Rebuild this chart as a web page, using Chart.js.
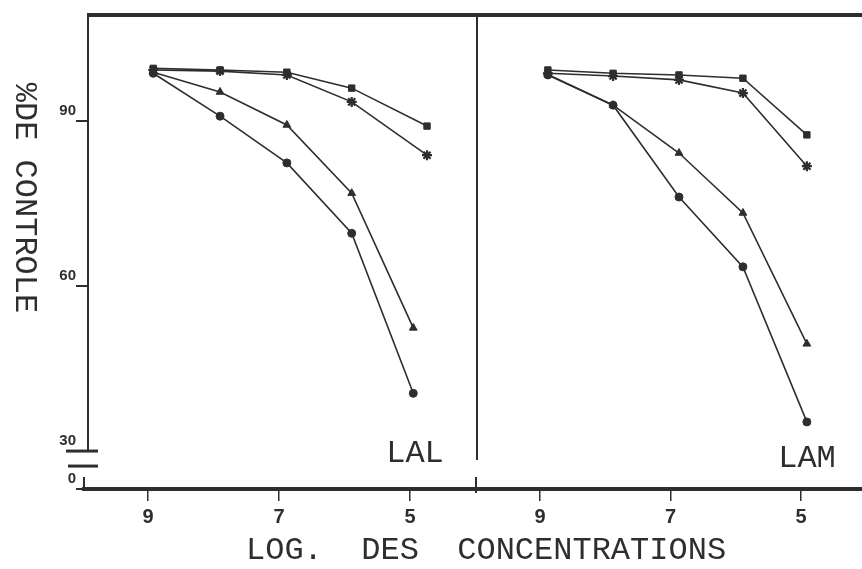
<!DOCTYPE html>
<html>
<head>
<meta charset="utf-8">
<title>% de contrôle — LAL / LAM</title>
<script src="https://cdn.jsdelivr.net/npm/chart.js@4.4.0/dist/chart.umd.min.js"></script>
<style>
  html, body { margin: 0; padding: 0; background: #fff; }
  #wrap { position: relative; width: 862px; height: 569px; overflow: hidden; }
  #lal-chart { position: absolute; left: 0; top: 0; }
  #lam-chart { position: absolute; left: 477px; top: 0; }
  #x-title {
    position: absolute; left: 246px; top: 535px;
    font: 32px/32px "Liberation Mono", "DejaVu Sans Mono", monospace;
    color: #2e2e2e; white-space: pre;
  }
</style>
</head>
<body>
<div id="wrap">
  <canvas id="lal-chart" width="479" height="569"></canvas>
  <canvas id="lam-chart" width="385" height="569"></canvas>
  <div id="x-title">LOG.  DES  CONCENTRATIONS</div>
</div>
<script>
// Axis ticks
const yTicks = [30, 60, 90];
const yBreakLabel = "0";
const xTicks = [9, 7, 5];

// LAL panel (log concentration, % of control)
const lalXUpper = [8.92, 7.9, 6.88, 5.89, 4.74];
const lalXLower = [8.92, 7.9, 6.88, 5.89, 4.95];
const lalSquare = [99.6, 99.3, 98.9, 96.0, 89.1];
const lalStar = [99.3, 99.1, 98.4, 93.5, 83.8];
const lalTriangle = [98.9, 95.3, 89.3, 76.9, 52.4];
const lalCircle = [98.7, 90.9, 82.4, 69.6, 40.5];

// LAM panel
const lamX = [8.88, 7.88, 6.87, 5.89, 4.91];
const lamSquare = [99.3, 98.7, 98.4, 97.8, 87.5];
const lamStar = [98.7, 98.2, 97.5, 95.1, 81.8];
const lamTriangle = [98.5, 92.9, 84.2, 73.3, 49.5];
const lamCircle = [98.4, 92.9, 76.2, 63.5, 35.3];

const INK = "#2e2e2e";
const Y_MIN = 23.1;
const Y_MAX = 109.3;
const MONO = '"Liberation Mono", "DejaVu Sans Mono", monospace';
const TICK_FONT = '"Liberation Sans", Arial, sans-serif';

function series(label, xs, ys, style, radius) {
  return {
    label,
    data: xs.map((x, i) => ({ x, y: ys[i] })),
    borderColor: INK,
    backgroundColor: INK,
    borderWidth: 1.6,
    clip: false,
    pointStyle: style,
    pointRadius: radius,
    pointBorderWidth: style === "star" ? 2.2 : 1,
    pointBorderColor: INK,
    pointBackgroundColor: INK,
  };
}

function line(ctx, x1, y1, x2, y2) {
  ctx.beginPath();
  ctx.moveTo(x1, y1);
  ctx.lineTo(x2, y2);
  ctx.stroke();
}

/** Frame, axis break, panel label and rotated y title */
const framePlugin = {
  id: "frame",
  afterDraw(chart, args, opts) {
    const { ctx, chartArea: a } = chart;
    const y30 = chart.scales.y.getPixelForValue(yTicks[0]);
    ctx.save();
    ctx.strokeStyle = INK;
    ctx.fillStyle = INK;

    ctx.lineWidth = 4;
    line(ctx, a.left - (opts.leftAxis ? 1 : 0), a.top, a.right + 2, a.top);
    line(ctx, a.left - (opts.leftAxis ? 6 : 0), a.bottom, a.right + 2, a.bottom);

    if (opts.leftAxis) {
      ctx.lineWidth = 2;
      line(ctx, a.left, a.top, a.left, y30);
      line(ctx, a.left - 4, y30 + 26, a.left - 4, a.bottom);
      // axis break marks
      ctx.lineWidth = 3;
      line(ctx, a.left - 22, y30, a.left + 10, y30);
      line(ctx, a.left - 20, y30 + 15, a.left + 10, y30 + 15);
    }

    if (opts.divider) {
      ctx.lineWidth = 2;
      line(ctx, a.right, a.top, a.right, a.bottom - 29);
      line(ctx, a.right - 1, a.bottom - 12, a.right - 1, a.bottom + 4);
    }

    ctx.font = "32px " + MONO;
    ctx.textAlign = "center";
    ctx.textBaseline = "alphabetic";
    ctx.fillText(opts.panelLabel, a.right - opts.labelDx, a.bottom - opts.labelDy);

    if (opts.yTitle) {
      ctx.translate(24, 198);
      ctx.rotate(Math.PI / 2);
      ctx.textBaseline = "middle";
      ctx.fillText(opts.yTitle, 0, 0);
    }
    ctx.restore();
  },
};

function xScale(min, max) {
  return {
    type: "linear",
    reverse: true,
    min,
    max,
    afterBuildTicks: (scale) => {
      scale.ticks = xTicks.map((v) => ({ value: v }));
    },
    afterFit: (scale) => {
      scale.height = 80;
      scale.paddingLeft = 0;
      scale.paddingRight = 0;
    },
    border: { display: false },
    grid: {
      drawOnChartArea: false,
      drawTicks: true,
      tickLength: 12,
      color: INK,
      lineWidth: 1.5,
    },
    ticks: {
      autoSkip: false,
      maxRotation: 0,
      padding: 4,
      color: INK,
      font: { family: TICK_FONT, size: 20, weight: "bold" },
    },
  };
}

function yScale(show) {
  return {
    type: "linear",
    display: show,
    min: Y_MIN,
    max: Y_MAX,
    afterBuildTicks: (scale) => {
      scale.ticks = [{ value: Y_MIN }].concat(yTicks.map((v) => ({ value: v })));
    },
    afterFit: (scale) => {
      scale.width = show ? 88 : 0;
      scale.paddingTop = 0;
      scale.paddingBottom = 0;
    },
    border: { display: false },
    grid: {
      drawOnChartArea: false,
      drawTicks: true,
      tickLength: 12,
      color: INK,
      lineWidth: 2,
    },
    ticks: {
      padding: 0,
      labelOffset: -10,
      color: INK,
      font: { family: TICK_FONT, size: 15, weight: "bold" },
      callback: (value) => (value === Y_MIN ? yBreakLabel : String(value)),
    },
  };
}

function baseOptions(xMin, xMax, showY, padRight, frame) {
  return {
    responsive: false,
    animation: false,
    layout: {
      // markers never touch the frame, so skip Chart.js's marker padding
      autoPadding: false,
      padding: { top: 15, right: padRight, bottom: 0, left: 0 },
    },
    scales: { x: xScale(xMin, xMax), y: yScale(showY) },
    elements: { line: { tension: 0 } },
    plugins: {
      legend: { display: false },
      tooltip: { enabled: false },
      frame,
    },
  };
}

new Chart(document.getElementById("lal-chart"), {
  type: "line",
  data: {
    datasets: [
      series("carré", lalXUpper, lalSquare, "rect", 4.5),
      series("étoile", lalXUpper, lalStar, "star", 5),
      series("triangle", lalXLower, lalTriangle, "triangle", 4.5),
      series("cercle", lalXLower, lalCircle, "circle", 4),
    ],
  },
  options: baseOptions(3.977, 9.916, true, 2, {
    leftAxis: true,
    divider: true,
    panelLabel: "LAL",
    labelDx: 62,
    labelDy: 27,
    yTitle: "%DE CONTROLE",
  }),
  plugins: [framePlugin],
});

new Chart(document.getElementById("lam-chart"), {
  type: "line",
  data: {
    datasets: [
      series("carré", lamX, lamSquare, "rect", 4.5),
      series("étoile", lamX, lamStar, "star", 5),
      series("triangle", lamX, lamTriangle, "triangle", 4.5),
      series("cercle", lamX, lamCircle, "circle", 4),
    ],
  },
  options: baseOptions(4.065, 9.966, false, 0, {
    leftAxis: false,
    divider: false,
    panelLabel: "LAM",
    labelDx: 55,
    labelDy: 22,
  }),
  plugins: [framePlugin],
});
</script>
</body>
</html>
